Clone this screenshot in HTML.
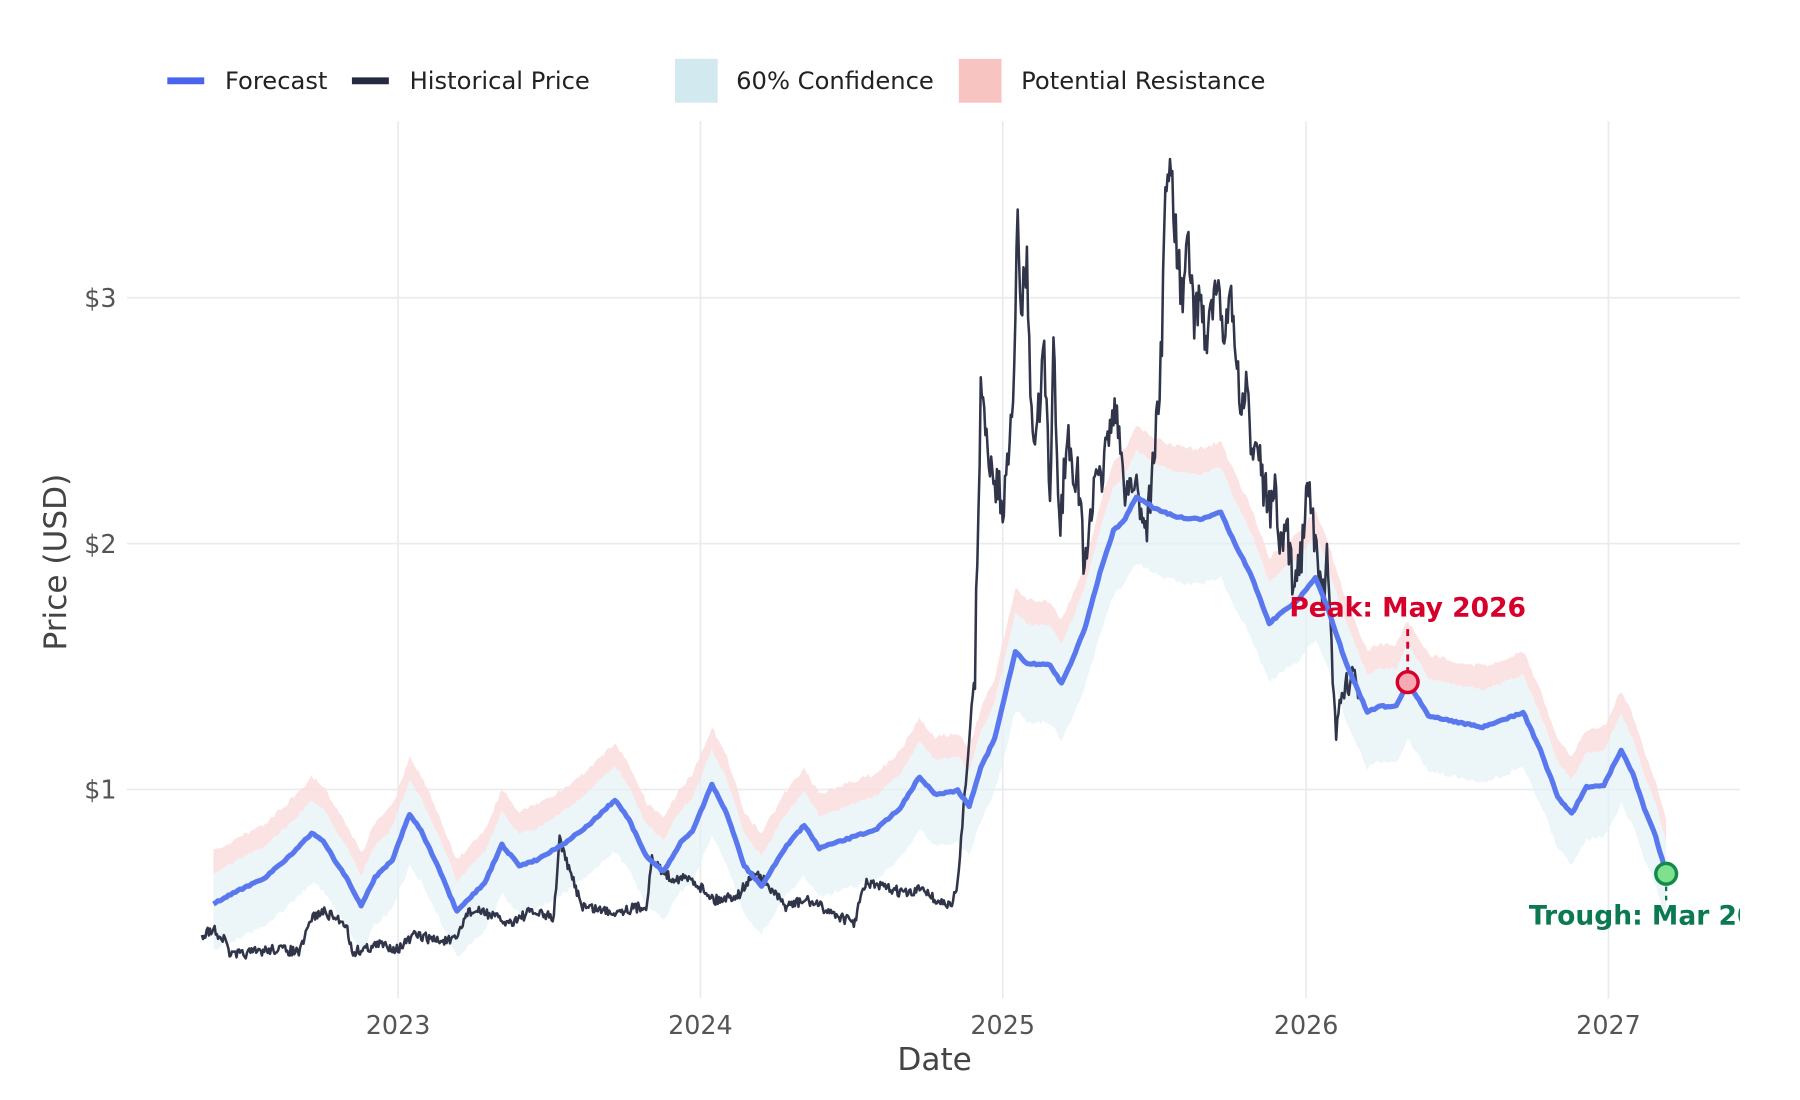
<!DOCTYPE html>
<html><head><meta charset="utf-8"><style>
html,body{margin:0;padding:0;background:#fff;}
svg{display:block;font-family:"DejaVu Sans","Liberation Sans",sans-serif;}
</style></head><body>
<svg id="s" width="1800" height="1100" viewBox="0 0 1560 953" preserveAspectRatio="none" xmlns="http://www.w3.org/2000/svg">
<defs><clipPath id="c"><rect x="110" y="100" width="1398" height="770"/></clipPath></defs>
<rect width="1560" height="953" fill="#fff"/>
<g stroke="#e9ecef" stroke-width="1.5">
<line x1="345" y1="105" x2="345" y2="865"/><line x1="607" y1="105" x2="607" y2="865"/><line x1="869" y1="105" x2="869" y2="865"/><line x1="1132" y1="105" x2="1132" y2="865"/><line x1="1394" y1="105" x2="1394" y2="865"/>
<line x1="110" y1="258" x2="1508" y2="258"/><line x1="110" y1="471" x2="1508" y2="471"/><line x1="110" y1="684" x2="1508" y2="684"/>
</g>
<g fill="#555" font-size="22">
<text x="101" y="266" text-anchor="end">$3</text><text x="101" y="479" text-anchor="end">$2</text><text x="101" y="692" text-anchor="end">$1</text>
<text x="345" y="896" text-anchor="middle">2023</text><text x="607" y="896" text-anchor="middle">2024</text><text x="869" y="896" text-anchor="middle">2025</text><text x="1132" y="896" text-anchor="middle">2026</text><text x="1394" y="896" text-anchor="middle">2027</text>
</g>
<text x="810" y="927" text-anchor="middle" font-size="27" fill="#444">Date</text>
<text transform="translate(57,487) rotate(-90)" text-anchor="middle" font-size="27" fill="#444">Price (USD)</text>
<g font-size="21" fill="#222">
<line x1="145" y1="70" x2="177" y2="70" stroke="#4a64ee" stroke-width="6"/><text x="195" y="77">Forecast</text>
<line x1="305" y1="70" x2="337" y2="70" stroke="#262a40" stroke-width="6"/><text x="355" y="77">Historical Price</text>
<rect x="585" y="51" width="37" height="38" fill="#d3e9f0"/><text x="638" y="77">60% Confidence</text>
<rect x="831" y="51" width="37" height="38" fill="#f7c4c2"/><text x="885" y="77">Potential Resistance</text>
</g>
<g clip-path="url(#c)" id="plot"></g>
<g id="ann"></g>
</svg>
<script>
var F=[[185,783],[200,775],[230,760],[255,738],[270,722],[280,728],[290,745],[300,760],[313,785],[325,760],[340,745],[355,705],[365,720],[380,752],[396,790],[410,775],[420,765],[435,732],[450,750],[465,745],[490,730],[510,715],[533,693],[545,710],[560,742],[575,755],[590,730],[600,720],[617,680],[630,705],[645,750],[660,768],[680,735],[697,715],[710,735],[740,725],[760,718],[780,700],[797,673],[810,688],[830,685],[840,698],[850,665],[862,640],[880,565],[890,575],[910,576],[920,592],[930,570],[940,545],[955,490],[965,460],[975,450],[985,430],[1000,440],[1020,448],[1040,450],[1058,444],[1070,470],[1085,500],[1100,540],[1115,527],[1125,520],[1140,500],[1150,525],[1165,570],[1185,617],[1195,612],[1210,612],[1220,591],[1238,620],[1260,625],[1285,630],[1300,625],[1320,617],[1335,650],[1350,690],[1362,705],[1375,682],[1390,680],[1405,650],[1415,670],[1425,700],[1435,725],[1444,757]];
var H=[[175,810],[185,805],[195,815],[200,828],[220,825],[240,822],[260,825],[270,795],[280,790],[300,800],[305,825],[330,818],[345,822],[360,810],[380,815],[395,815],[405,790],[420,790],[440,800],[460,790],[480,795],[485,725],[490,745],[505,785],[530,790],[560,785],[565,745],[580,760],[600,762],[620,780],[640,775],[655,755],[680,785],[700,780],[720,790],[740,800],[750,765],[770,770],[790,775],[800,768],[810,780],[825,785],[830,765],[835,700],[840,640],[845,580],[848,430],[850,340],[855,380],[860,410],[870,440],[878,330],[882,200],[885,260],[890,230],[895,390],[900,360],[905,310],[910,440],[913,285],[918,460],[925,380],[935,420],[940,500],[945,440],[955,410],[965,350],[975,420],[985,420],[993,460],[1000,400],[1007,300],[1010,160],[1015,145],[1020,220],[1025,260],[1030,210],[1035,280],[1040,250],[1045,295],[1055,245],[1060,300],[1065,250],[1070,290],[1075,360],[1080,340],[1085,390],[1090,370],[1095,420],[1100,440],[1105,430],[1110,480],[1115,460],[1120,500],[1128,480],[1133,400],[1138,460],[1145,510],[1150,490],[1155,580],[1158,640],[1162,590],[1168,600],[1175,595],[1180,610]];
var seed=7;function r(){seed=(seed*16807)%2147483647;return seed/2147483647-0.5;}
function interp(P,step){var o=[];for(var i=0;i<P.length-1;i++){var a=P[i],b=P[i+1];var n=Math.max(1,Math.round((b[0]-a[0])/step));for(var k=0;k<n;k++){var t=k/n;o.push([a[0]+(b[0]-a[0])*t,a[1]+(b[1]-a[1])*t]);}}o.push(P[P.length-1]);return o;}
var f=interp(F,2);
function val(y){return (897-y)/213;}
var up=[],mid=[],lo=[];
f.forEach(function(p){var v=val(p[1]);up.push([p[0],p[1]-(40+10*v)+r()*4]);mid.push([p[0],p[1]-(22+8*v)+r()*3]);lo.push([p[0],p[1]+(35+10*v)+r()*4]);});
function pts(a){return a.map(function(p){return p[0].toFixed(1)+","+p[1].toFixed(1)}).join(" ");}
var g=document.getElementById("plot"),NS="http://www.w3.org/2000/svg";
function el(t,at){var e=document.createElementNS(NS,t);for(var k in at)e.setAttribute(k,at[k]);return e;}
g.appendChild(el("polygon",{points:pts(up.concat(mid.slice().reverse())),fill:"#fbdcdc","fill-opacity":"0.8"}));
g.appendChild(el("polygon",{points:pts(mid.concat(lo.slice().reverse())),fill:"#e4f2f7","fill-opacity":"0.7"}));
var h=interp(H,1).map(function(p){return [p[0],p[1]+r()*(p[1]<600?40:9)];});
g.appendChild(el("polyline",{points:pts(h),fill:"none",stroke:"#262a40","stroke-width":"2.2","stroke-linejoin":"round","stroke-opacity":"0.95"}));
g.appendChild(el("polyline",{points:pts(f.map(function(p){return [p[0],p[1]+r()*1.5]})),fill:"none",stroke:"#5a78ee","stroke-width":"4.5","stroke-linejoin":"round"}));
var a=document.getElementById("ann");
a.innerHTML='<line x1="1220" y1="545" x2="1220" y2="582" stroke="#d6002a" stroke-width="2.5" stroke-dasharray="6,5"/>'+
'<circle cx="1220" cy="591" r="9" fill="#f6a9b2" stroke="#d6002a" stroke-width="3"/>'+
'<text x="1220" y="534" text-anchor="middle" font-size="23" font-weight="bold" fill="#d6002a">Peak: May 2026</text>'+
'<line x1="1444" y1="768" x2="1444" y2="780" stroke="#0b7a50" stroke-width="2" stroke-dasharray="4,4"/>'+
'<circle cx="1444" cy="757" r="9" fill="#7fe08e" stroke="#118a4c" stroke-width="3"/>'+
'<svg x="0" y="0" width="1508" height="953" overflow="hidden"><text x="1325" y="801" font-size="23" font-weight="bold" fill="#0b7a50">Trough: Mar 2027</text></svg>';
</script>
</body></html>
